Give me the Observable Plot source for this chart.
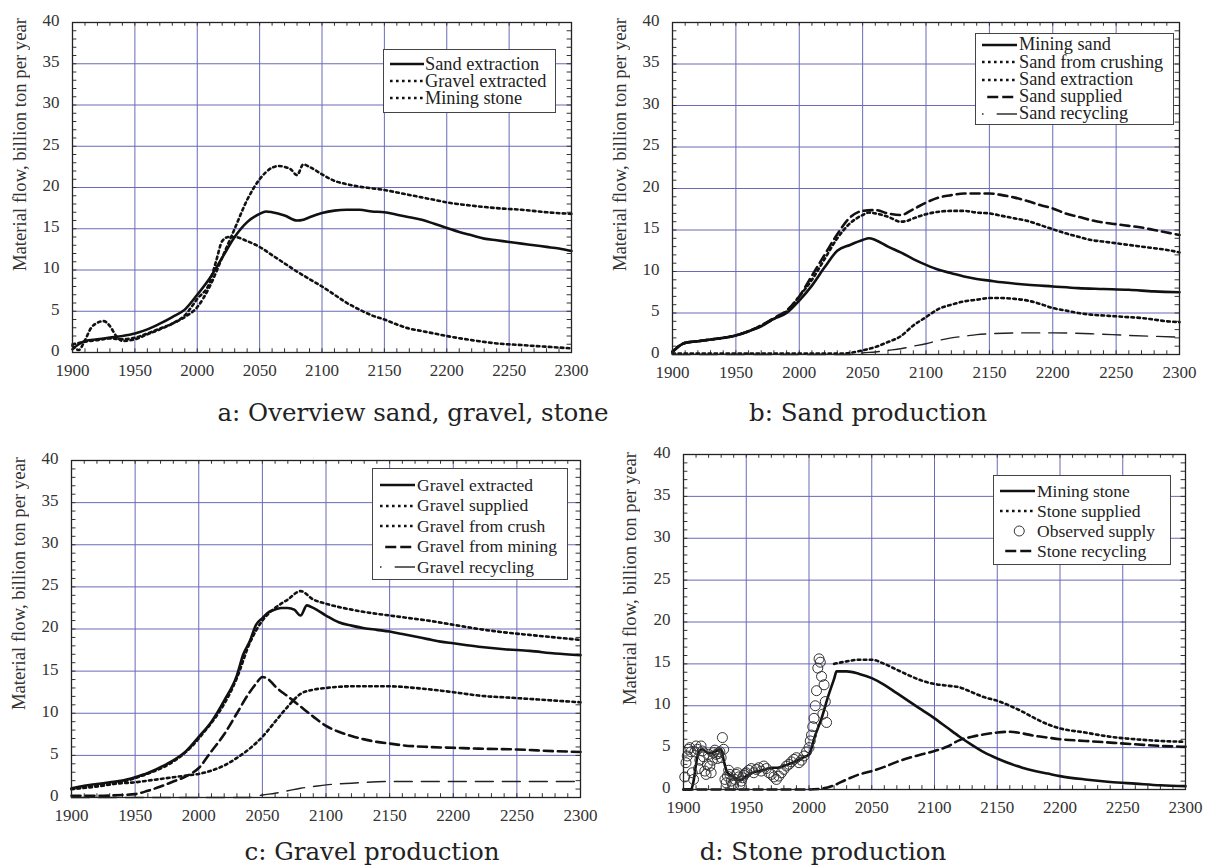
<!DOCTYPE html>
<html><head><meta charset="utf-8">
<script src="https://cdn.jsdelivr.net/npm/d3@7"></script>
<script src="https://cdn.jsdelivr.net/npm/@observablehq/plot@0.6"></script>
<style>
body{margin:0;background:#fff;width:1206px;height:868px;position:relative;overflow:hidden;font-family:"Liberation Serif","Times New Roman",Times,serif;}
.panel{position:absolute;}
.ylab{position:absolute;writing-mode:vertical-rl;transform:rotate(180deg);font-family:"Liberation Serif","Times New Roman",Times,serif;font-size:18.7px;line-height:18px;color:#333;white-space:nowrap;}
.cap{position:absolute;font-family:"DejaVu Serif",serif;font-size:24.5px;line-height:25px;color:#222;transform:translateX(-50%);white-space:nowrap;}
.legend{position:absolute;border:1.3px solid #444;background:#fff;box-sizing:border-box;}
.ltext{position:absolute;color:#222;white-space:pre;font-family:"Liberation Serif","Times New Roman",Times,serif;}
</style></head><body>
<script>
// ---------------- DATA ----------------
const xTicks = [1900, 1950, 2000, 2050, 2100, 2150, 2200, 2250, 2300];
const yTicks = [0, 5, 10, 15, 20, 25, 30, 35, 40];
const yLabel = "Material flow, billion ton per year";
const captions = ["a: Overview sand, gravel, stone", "b: Sand production", "c: Gravel production", "d: Stone production"];

// Panel a
const sandExtraction = [[1900,0.4],[1905,1.0],[1910,1.4],[1920,1.6],[1930,1.8],[1940,2.0],[1950,2.3],[1960,2.8],[1970,3.5],[1980,4.3],[1990,5.2],[2000,7.0],[2010,9.0],[2020,11.5],[2030,14.0],[2040,15.8],[2050,16.8],[2055,17.1],[2060,17.0],[2070,16.6],[2080,16.0],[2085,16.1],[2090,16.4],[2100,16.9],[2110,17.2],[2120,17.3],[2130,17.3],[2140,17.1],[2150,17.0],[2160,16.7],[2170,16.4],[2180,16.1],[2190,15.6],[2200,15.1],[2210,14.6],[2220,14.2],[2230,13.8],[2240,13.6],[2250,13.4],[2260,13.2],[2270,13.0],[2280,12.8],[2290,12.6],[2300,12.3]];
const gravelExtractedA = [[1900,1.0],[1910,1.3],[1920,1.5],[1930,1.7],[1940,1.6],[1950,1.8],[1960,2.3],[1970,2.9],[1980,3.5],[1990,4.3],[2000,5.5],[2010,8.0],[2020,11.5],[2030,15.0],[2040,18.5],[2050,21.0],[2060,22.4],[2065,22.6],[2070,22.5],[2075,22.2],[2080,21.5],[2085,22.8],[2090,22.5],[2100,21.6],[2110,20.8],[2120,20.4],[2130,20.1],[2140,19.9],[2150,19.7],[2160,19.4],[2170,19.1],[2180,18.8],[2190,18.5],[2200,18.2],[2220,17.8],[2240,17.5],[2260,17.3],[2280,17.0],[2300,16.8]];
const miningStoneA = [[1900,0.8],[1905,0.3],[1910,1.5],[1915,3.0],[1920,3.6],[1925,3.8],[1930,3.2],[1935,2.0],[1940,1.4],[1950,1.6],[1960,2.2],[1970,2.8],[1980,3.5],[1990,4.5],[2000,6.5],[2010,8.5],[2015,11.0],[2020,13.5],[2025,14.0],[2030,14.0],[2040,13.5],[2050,12.8],[2060,11.8],[2070,10.8],[2080,9.8],[2090,8.9],[2100,8.0],[2110,7.0],[2120,6.0],[2130,5.2],[2140,4.5],[2150,4.0],[2160,3.4],[2170,2.9],[2180,2.6],[2190,2.3],[2200,2.0],[2220,1.5],[2240,1.1],[2260,0.9],[2280,0.7],[2300,0.5]];

// Panel b
const miningSand = [[1900,0.3],[1905,1.0],[1910,1.4],[1920,1.6],[1930,1.8],[1940,2.0],[1950,2.3],[1960,2.8],[1970,3.4],[1980,4.3],[1990,5.0],[2000,6.5],[2010,8.3],[2020,10.5],[2030,12.5],[2040,13.2],[2050,13.8],[2055,14.0],[2060,13.8],[2070,13.0],[2080,12.3],[2090,11.5],[2100,10.8],[2110,10.2],[2120,9.8],[2130,9.4],[2140,9.1],[2150,8.9],[2160,8.7],[2180,8.4],[2200,8.2],[2220,8.0],[2240,7.9],[2260,7.8],[2280,7.6],[2300,7.5]];
const sandFromCrushing = [[1900,0.1],[1950,0.1],[2000,0.1],[2030,0.1],[2040,0.2],[2050,0.5],[2060,0.9],[2070,1.5],[2080,2.2],[2090,3.5],[2100,4.5],[2110,5.5],[2120,6.0],[2130,6.4],[2140,6.6],[2150,6.8],[2160,6.8],[2170,6.7],[2180,6.5],[2190,6.1],[2200,5.6],[2210,5.3],[2220,5.0],[2230,4.8],[2240,4.7],[2250,4.6],[2260,4.5],[2270,4.4],[2280,4.2],[2290,4.0],[2300,3.9]];
const sandSupplied = [[1900,0.3],[1905,1.0],[1910,1.4],[1920,1.6],[1930,1.8],[1940,2.0],[1950,2.3],[1960,2.8],[1970,3.5],[1980,4.4],[1990,5.3],[2000,7.0],[2010,9.5],[2020,12.0],[2030,14.5],[2040,16.5],[2050,17.3],[2060,17.4],[2070,17.0],[2080,16.8],[2090,17.5],[2100,18.3],[2110,18.9],[2120,19.2],[2130,19.4],[2140,19.4],[2150,19.4],[2160,19.2],[2170,18.9],[2180,18.5],[2190,18.0],[2200,17.6],[2210,17.0],[2220,16.6],[2230,16.2],[2240,15.9],[2250,15.7],[2260,15.5],[2270,15.3],[2280,15.0],[2290,14.7],[2300,14.4]];
const sandRecycling = [[1900,0],[2040,0],[2050,0.2],[2060,0.3],[2070,0.5],[2080,0.7],[2090,1.0],[2100,1.3],[2110,1.7],[2120,2.0],[2130,2.2],[2140,2.4],[2150,2.5],[2170,2.6],[2200,2.6],[2230,2.5],[2260,2.3],[2300,2.1]];

// Panel c
const gravelExtracted = [[1900,1.1],[1910,1.4],[1920,1.6],[1930,1.8],[1940,2.0],[1950,2.4],[1960,2.9],[1970,3.6],[1980,4.4],[1990,5.5],[2000,7.2],[2010,9.0],[2020,11.5],[2030,14.5],[2035,17.0],[2040,18.5],[2045,20.5],[2050,21.3],[2055,22.0],[2060,22.3],[2065,22.5],[2070,22.5],[2075,22.3],[2080,21.6],[2085,22.8],[2090,22.5],[2100,21.6],[2110,20.8],[2120,20.4],[2130,20.1],[2140,19.9],[2150,19.7],[2160,19.4],[2170,19.1],[2180,18.8],[2190,18.5],[2200,18.3],[2220,17.9],[2240,17.6],[2260,17.4],[2280,17.1],[2300,16.9]];
const gravelSupplied = [[1900,1.0],[1950,2.3],[2000,7.0],[2030,14.2],[2040,18.3],[2050,21.0],[2060,22.5],[2070,23.5],[2080,24.5],[2090,23.5],[2100,23.0],[2120,22.3],[2140,21.8],[2150,21.6],[2160,21.4],[2180,21.0],[2200,20.5],[2220,20.0],[2240,19.6],[2260,19.3],[2280,19.0],[2300,18.7]];
const gravelFromCrush = [[1900,1.0],[1920,1.4],[1940,1.7],[1950,1.8],[1960,2.0],[1970,2.2],[1980,2.4],[1990,2.6],[2000,2.8],[2010,3.2],[2020,3.8],[2030,4.7],[2040,5.8],[2050,7.2],[2060,9.0],[2070,10.8],[2080,12.3],[2090,12.8],[2100,13.0],[2120,13.2],[2150,13.2],[2170,13.0],[2200,12.5],[2220,12.1],[2250,11.8],[2280,11.5],[2300,11.3]];
const gravelFromMining = [[1900,0.2],[1920,0.2],[1940,0.3],[1950,0.4],[1960,0.8],[1970,1.3],[1980,1.9],[1990,2.5],[2000,3.5],[2010,5.5],[2020,7.5],[2030,10.0],[2040,12.5],[2045,13.5],[2050,14.3],[2055,14.0],[2060,13.2],[2070,12.0],[2080,10.8],[2090,9.6],[2100,8.5],[2110,7.8],[2120,7.3],[2130,6.9],[2140,6.6],[2150,6.4],[2160,6.2],[2180,6.0],[2200,5.9],[2220,5.8],[2250,5.7],[2280,5.5],[2300,5.4]];
const gravelRecycling = [[1900,0],[2040,0],[2050,0.3],[2060,0.5],[2070,0.8],[2080,1.1],[2090,1.3],[2100,1.5],[2120,1.7],[2150,1.9],[2200,1.9],[2250,1.9],[2300,1.9]];

// Panel d
const miningStone = [[1900,0],[1906,0],[1908,1.0],[1910,3.0],[1912,4.5],[1915,4.8],[1920,4.3],[1925,4.5],[1930,4.8],[1932,3.5],[1935,2.0],[1940,1.5],[1945,1.1],[1950,1.6],[1955,2.0],[1960,2.2],[1965,2.4],[1970,2.6],[1975,2.6],[1980,2.8],[1985,3.1],[1990,3.4],[1995,3.8],[2000,4.2],[2005,6.5],[2010,8.5],[2015,11.0],[2020,13.2],[2022,14.1],[2030,14.1],[2040,13.8],[2050,13.3],[2060,12.5],[2070,11.5],[2080,10.5],[2090,9.5],[2100,8.5],[2110,7.4],[2120,6.3],[2130,5.3],[2140,4.4],[2150,3.7],[2160,3.1],[2170,2.6],[2180,2.2],[2190,1.9],[2200,1.6],[2220,1.2],[2240,0.9],[2260,0.7],[2280,0.5],[2300,0.4]];
const stoneSupplied = [[2020,15.0],[2030,15.3],[2040,15.5],[2050,15.5],[2060,15.0],[2070,14.3],[2080,13.6],[2090,13.0],[2100,12.6],[2110,12.4],[2120,12.2],[2130,11.6],[2140,11.0],[2150,10.6],[2160,10.0],[2170,9.3],[2180,8.5],[2190,7.8],[2200,7.3],[2220,6.8],[2240,6.3],[2260,6.0],[2280,5.8],[2300,5.7]];
const stoneRecycling = [[1900,0],[2000,0],[2010,0.1],[2020,0.5],[2030,1.2],[2040,1.8],[2050,2.2],[2060,2.7],[2070,3.3],[2080,3.8],[2090,4.2],[2100,4.6],[2110,5.1],[2120,5.9],[2130,6.3],[2140,6.6],[2150,6.8],[2160,6.9],[2170,6.7],[2180,6.4],[2190,6.2],[2200,6.0],[2220,5.8],[2240,5.6],[2260,5.4],[2280,5.2],[2300,5.1]];
const observedSupply = [[1901,1.5],[1902,3.2],[1903,4.0],[1904,4.8],[1905,5.0],[1906,4.5],[1907,2.0],[1908,1.2],[1909,4.5],[1910,5.2],[1911,4.8],[1912,2.5],[1913,3.5],[1914,5.2],[1915,4.6],[1916,3.9],[1917,2.2],[1918,1.8],[1919,3.0],[1920,4.2],[1921,2.8],[1922,2.0],[1923,3.5],[1924,4.4],[1925,4.7],[1926,4.2],[1927,3.7],[1928,4.3],[1929,4.5],[1930,3.8],[1931,6.2],[1932,4.8],[1933,1.2],[1934,0.8],[1935,1.6],[1936,2.3],[1937,1.8],[1938,1.0],[1939,0.6],[1940,0.5],[1941,1.2],[1942,1.8],[1943,2.0],[1944,1.5],[1945,0.6],[1946,1.0],[1947,1.4],[1948,1.7],[1949,1.9],[1950,2.0],[1952,2.3],[1954,2.5],[1956,2.0],[1958,2.4],[1960,2.6],[1962,2.2],[1964,2.8],[1966,2.5],[1968,2.0],[1970,1.8],[1972,1.5],[1974,1.2],[1976,1.6],[1978,2.0],[1980,2.4],[1982,2.8],[1984,3.0],[1986,3.3],[1988,3.6],[1990,3.8],[1992,3.2],[1994,3.5],[1996,4.0],[1998,4.5],[2000,5.0],[2001,5.8],[2002,6.5],[2003,7.5],[2004,8.5],[2005,10.0],[2006,11.8],[2007,14.5],[2008,15.6],[2009,15.2],[2010,13.5],[2011,9.0],[2012,12.5],[2013,10.5],[2014,8.0]];

// ---------------- STYLES ----------------
const SERIF = '"Liberation Serif", "Times New Roman", Times, serif';
const GRID = "#6a6ab8";
const INK = "#111";
const styles = {
  solid:  {stroke: INK, strokeWidth: 2.6},
  dotted: {stroke: INK, strokeWidth: 2.6, strokeDasharray: "2.6,3.4"},
  dashed: {stroke: INK, strokeWidth: 2.6, strokeDasharray: "9,5"},
  long:   {stroke: "#222", strokeWidth: 1.4, strokeDasharray: "18,9"}
};

const panels = [
  {left: 0, top: 0, width: 600, height: 380, ml: 72, mr: 29, mt: 22, mb: 28,
   ylab: {x: 11, y: 18}, cap: {x: 413, y: 400},
   series: [[sandExtraction, "solid"], [gravelExtractedA, "dotted"], [miningStoneA, "dotted"]],
   legend: {left: 383, top: 49, width: 173, height: 64, sx1: 390, sx2: 424, tx: 425, fs: 18.3, y0: 64, dy: 17,
            rows: [["Sand extraction", "solid"], ["Gravel extracted", "dotted"], ["Mining stone", "dotted"]]}},
  {left: 600, top: 0, width: 606, height: 380, ml: 72, mr: 27, mt: 22, mb: 26,
   ylab: {x: 611, y: 18}, cap: {x: 868, y: 400},
   series: [[miningSand, "solid"], [sandFromCrushing, "dotted"], [sandExtraction, "dotted"], [sandSupplied, "dashed"], [sandRecycling, "long"]],
   legend: {left: 975, top: 33, width: 199, height: 92, sx1: 982, sx2: 1017, tx: 1019, fs: 18.3, y0: 45, dy: 17.25,
            rows: [["Mining sand", "solid"], ["Sand from crushing", "dotted"], ["Sand extraction", "dotted"], ["Sand supplied", "dashed"], ["Sand recycling", "long"]]}},
  {left: 0, top: 440, width: 600, height: 380, ml: 71, mr: 20, mt: 20, mb: 23,
   ylab: {x: 10, y: 457}, cap: {x: 372, y: 839},
   series: [[gravelExtracted, "solid"], [gravelSupplied, "dotted"], [gravelFromCrush, "dotted"], [gravelFromMining, "dashed"], [gravelRecycling, "long"]],
   legend: {left: 372, top: 468, width: 196, height: 112, sx1: 380, sx2: 415, tx: 417, fs: 17.5, y0: 485, dy: 20.5,
            rows: [["Gravel extracted", "solid"], ["Gravel supplied", "dotted"], ["Gravel from crush", "dotted"], ["Gravel from mining", "dashed"], ["Gravel recycling", "long"]]}},
  {left: 600, top: 440, width: 606, height: 380, ml: 83, mr: 21, mt: 14, mb: 31,
   ylab: {x: 621, y: 452}, cap: {x: 823, y: 839},
   series: [[miningStone, "solid"], [stoneSupplied, "dotted"], [stoneRecycling, "dashed"]],
   dots: observedSupply,
   legend: {left: 993, top: 475, width: 178, height: 90, sx1: 1000, sx2: 1035, tx: 1037, fs: 17.5, y0: 491, dy: 20,
            rows: [["Mining stone", "solid"], ["Stone supplied", "dotted"], ["Observed supply", "circle"], ["Stone recycling", "dashed"]]}}
];

const minorX = d3.range(1910, 2300, 10);
const minorY = d3.range(1, 40, 1);

panels.forEach((p, i) => {
  const marks = [
    Plot.gridX(xTicks.slice(1, -1), {stroke: GRID, strokeOpacity: 1, strokeWidth: 1}),
    Plot.gridY(yTicks.slice(1, -1), {stroke: GRID, strokeOpacity: 1, strokeWidth: 1}),
    Plot.ruleX(minorX, {x: d => d, y1: 0, y2: 0.45, stroke: "#333", strokeWidth: 1}),
    Plot.ruleX(minorX, {x: d => d, y1: 40, y2: 39.55, stroke: "#333", strokeWidth: 1}),
    Plot.ruleY(minorY, {y: d => d, x1: 1900, x2: 1903.5, stroke: "#333", strokeWidth: 1}),
    Plot.ruleY(minorY, {y: d => d, x1: 2300, x2: 2296.5, stroke: "#333", strokeWidth: 1}),
    Plot.axisX(xTicks, {tickSize: 0, tickPadding: 11, tickFormat: d => String(d), fill: "#333", label: null, fontFamily: SERIF}),
    Plot.axisY(yTicks, {tickSize: 0, tickPadding: 13, dy: -2, tickFormat: d => String(d), fill: "#333", label: null, fontFamily: SERIF})
  ];
  p.series.forEach(([data, st]) => {
    marks.push(Plot.line(data, {x: d => d[0], y: d => d[1], curve: "monotone-x", ...styles[st]}));
  });
  if (p.dots) marks.push(Plot.dot(p.dots, {x: d => d[0], y: d => d[1], r: 5, stroke: "#333", fill: "none", strokeWidth: 1}));
  marks.push(Plot.frame({stroke: "#222", strokeWidth: 1.3}));

  const chart = Plot.plot({
    width: p.width, height: p.height,
    marginLeft: p.ml, marginRight: p.mr, marginTop: p.mt, marginBottom: p.mb,
    x: {domain: [1900, 2300]},
    y: {domain: [0, 40]},
    style: {fontFamily: SERIF, fontSize: "17px", background: "transparent", overflow: "visible"},
    marks
  });
  const div = document.createElement("div");
  div.className = "panel";
  div.style.left = p.left + "px"; div.style.top = p.top + "px";
  div.appendChild(chart);
  document.body.appendChild(div);

  const yl = document.createElement("div");
  yl.className = "ylab"; yl.textContent = yLabel;
  yl.style.left = p.ylab.x + "px"; yl.style.top = p.ylab.y + "px";
  document.body.appendChild(yl);

  const cap = document.createElement("div");
  cap.className = "cap"; cap.textContent = captions[i];
  cap.style.left = p.cap.x + "px"; cap.style.top = p.cap.y + "px";
  document.body.appendChild(cap);

  const L = p.legend;
  const box = document.createElement("div");
  box.className = "legend";
  Object.assign(box.style, {left: L.left + "px", top: L.top + "px", width: L.width + "px", height: L.height + "px"});
  document.body.appendChild(box);
  const ns = "http://www.w3.org/2000/svg";
  L.rows.forEach(([label, st], k) => {
    const y = L.y0 + k * L.dy;
    const w = L.sx2 - L.sx1;
    const svg = document.createElementNS(ns, "svg");
    svg.setAttribute("width", w); svg.setAttribute("height", 12);
    svg.style.position = "absolute"; svg.style.left = L.sx1 + "px"; svg.style.top = (y - 6) + "px";
    if (st === "circle") {
      const c = document.createElementNS(ns, "circle");
      c.setAttribute("cx", w * 0.55); c.setAttribute("cy", 6); c.setAttribute("r", 5);
      c.setAttribute("fill", "none"); c.setAttribute("stroke", "#333");
      svg.appendChild(c);
    } else if (st === "long") {
      const d1 = document.createElementNS(ns, "line");
      d1.setAttribute("x1", 0); d1.setAttribute("x2", 1.5); d1.setAttribute("y1", 6); d1.setAttribute("y2", 6);
      d1.setAttribute("stroke", "#222"); d1.setAttribute("stroke-width", 1.4);
      svg.appendChild(d1);
      const d2 = document.createElementNS(ns, "line");
      d2.setAttribute("x1", w * 0.42); d2.setAttribute("x2", w); d2.setAttribute("y1", 6); d2.setAttribute("y2", 6);
      d2.setAttribute("stroke", "#222"); d2.setAttribute("stroke-width", 1.4);
      svg.appendChild(d2);
    } else {
      const s = styles[st];
      const ln = document.createElementNS(ns, "line");
      ln.setAttribute("x1", st === "dashed" ? w * 0.15 : 0); ln.setAttribute("x2", w);
      ln.setAttribute("y1", 6); ln.setAttribute("y2", 6);
      ln.setAttribute("stroke", s.stroke); ln.setAttribute("stroke-width", s.strokeWidth);
      if (s.strokeDasharray) ln.setAttribute("stroke-dasharray", st === "dashed" ? "11,4" : s.strokeDasharray);
      svg.appendChild(ln);
    }
    document.body.appendChild(svg);
  });
  const txt = document.createElement("div");
  txt.className = "ltext";
  txt.textContent = L.rows.map(r => r[0]).join("\n");
  Object.assign(txt.style, {left: L.tx + "px", top: (L.y0 - L.dy / 2) + "px", fontSize: L.fs + "px", lineHeight: L.dy + "px"});
  document.body.appendChild(txt);
});
</script>
</body></html>
